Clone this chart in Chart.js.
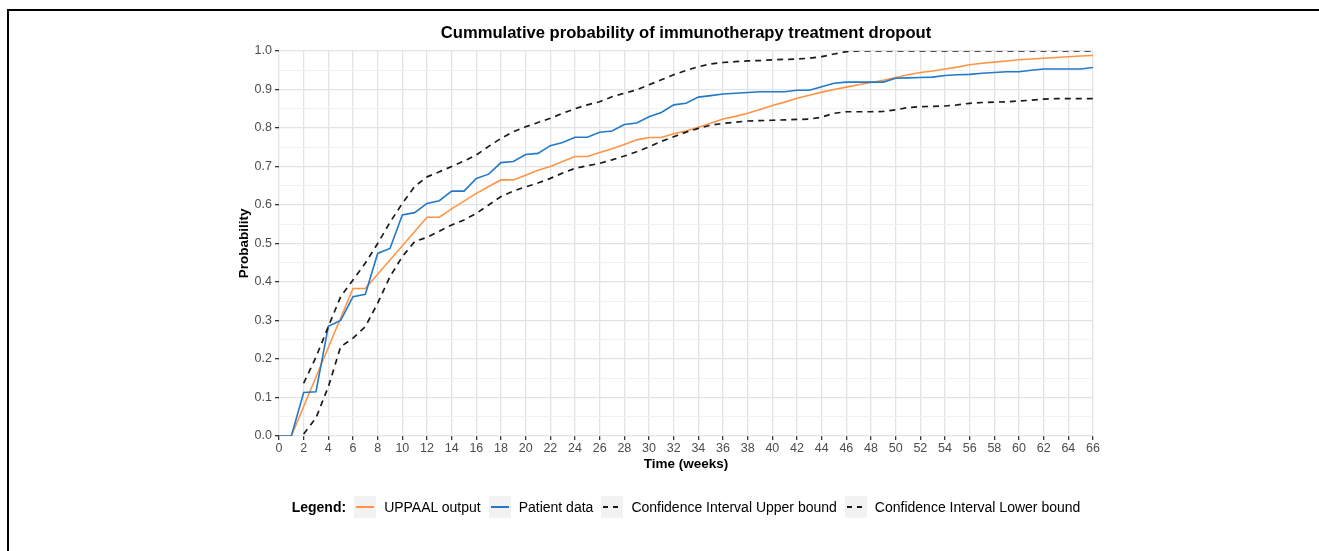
<!DOCTYPE html>
<html>
<head>
<meta charset="utf-8">
<script src="https://cdn.jsdelivr.net/npm/chart.js@4.4.1/dist/chart.umd.min.js"></script>
<style>
  html, body { margin: 0; padding: 0; background: #fff; overflow: hidden; }
  body { width: 1319px; height: 551px; position: relative; font-family: "Liberation Sans", Arial, sans-serif; }
  #frame { position: absolute; left: 7px; top: 9px; right: -10px; bottom: -10px;
           border-top: 2px solid #000; border-left: 2px solid #000; pointer-events: none; }
  #chart { position: absolute; left: 0; top: 0; }
  #legend { position: absolute; left: 279px; width: 814px; top: 496px; height: 22px;
            display: flex; justify-content: center; align-items: center; font-size: 14px; color: #000; }
  #legend b { margin-right: 8px; }
  .key { width: 22px; height: 22px; background: #f2f2f2; margin-right: 8px; position: relative; }
  .key i { position: absolute; left: 2px; right: 2px; top: 10px; height: 1.6px; }
  .lbl { margin-right: 8px; }
</style>
</head>
<body>
<canvas id="chart" width="1319" height="551"></canvas>
<div id="legend"></div>
<div id="frame"></div>
<script>
// weeks 0..66
const weeks = [];
for (let w = 0; w <= 66; w++) weeks.push(w);

// UPPAAL model output (null = straight segment in the picture)
const uppaal = [
  0, 0, null, null, null, null, 0.383, 0.383, null, null, null, null, 0.568, 0.568,
  0.590, 0.610, 0.630, 0.648, 0.665, 0.665, 0.677, 0.690, 0.700, 0.713, 0.726, 0.726,
  0.736, 0.746, 0.757, 0.769, 0.775, 0.775, 0.785, 0.792, 0.802, 0.812, 0.823, 0.830,
  0.838, 0.848, 0.858, 0.867, 0.877, 0.885, 0.893, 0.900, 0.906, 0.912, 0.918, 0.924,
  0.931, 0.938, 0.944, 0.948, 0.953, 0.958, 0.964, 0.968, 0.971, 0.974, 0.977, 0.979,
  0.981, 0.983, 0.985, 0.987, 0.988
];

// observed patient data
const patient = [
  0, 0, 0.113, 0.115, 0.285, 0.300, 0.362, 0.368, 0.474, 0.487, 0.574, 0.580, 0.604,
  0.611, 0.636, 0.636, 0.669, 0.680, 0.710, 0.713, 0.731, 0.734, 0.754, 0.762, 0.776,
  0.776, 0.789, 0.792, 0.809, 0.813, 0.829, 0.840, 0.860, 0.864, 0.880, 0.884, 0.888,
  0.890, 0.892, 0.894, 0.894, 0.894, 0.898, 0.898, 0.907, 0.916, 0.919, 0.919, 0.919,
  0.919, 0.929, 0.930, 0.931, 0.932, 0.936, 0.938, 0.939, 0.942, 0.944, 0.946, 0.946,
  0.950, 0.953, 0.953, 0.953, 0.953, 0.957
];

const ciUpper = [
  null, null, 0.137, 0.205, 0.284, 0.362, 0.405, 0.449, 0.500, 0.555, 0.604, 0.648,
  0.673, 0.686, 0.700, 0.714, 0.730, 0.752, 0.773, 0.790, 0.803, 0.814, 0.825, 0.838,
  0.850, 0.860, 0.868, 0.881, 0.890, 0.899, 0.912, 0.925, 0.938, 0.949, 0.959, 0.966,
  0.970, 0.972, 0.974, 0.975, 0.977, 0.978, 0.979, 0.981, 0.985, 0.992, 0.998, 1.0,
  1.0, 1.0, 1.0, 1.0, 1.0, 1.0, 1.0, 1.0, 1.0, 1.0, 1.0, 1.0, 1.0, 1.0, 1.0, 1.0,
  1.0, 1.0, 1.0
];

const ciLower = [
  null, null, 0.005, 0.047, 0.128, 0.232, 0.254, 0.284, 0.345, 0.414, 0.466, 0.505,
  0.516, 0.532, 0.548, 0.561, 0.578, 0.600, 0.622, 0.636, 0.647, 0.657, 0.669, 0.683,
  0.695, 0.702, 0.708, 0.717, 0.727, 0.738, 0.751, 0.765, 0.777, 0.789, 0.799, 0.807,
  0.812, 0.815, 0.818, 0.819, 0.820, 0.821, 0.822, 0.823, 0.828, 0.838, 0.842, 0.842,
  0.842, 0.843, 0.847, 0.853, 0.855, 0.856, 0.857, 0.860, 0.864, 0.866, 0.867, 0.868,
  0.870, 0.872, 0.875, 0.876, 0.876, 0.876, 0.876
];

const seriesNames = ["UPPAAL output", "Patient data", "Confidence Interval Upper bound", "Confidence Interval Lower bound"];

const colors = {
  orange: "#ff9447",
  blue: "#2279c9",
  dash: "#1a1a1a",
  grid: "#e3e3e3",
  gridMinor: "#f1f1f1",
  tick: "#333333",
  tickText: "#4d4d4d"
};

const toPoints = arr => weeks.map((w, i) => ({ x: w, y: arr[i] }));
const isMajor = v => Math.round(v * 100) % 10 === 0;

const ds = (label, data, color, dashed) => ({
  label: label,
  data: toPoints(data),
  borderColor: color,
  borderWidth: dashed ? 1.7 : 1.6,
  borderDash: dashed ? [6, 5] : [],
  pointRadius: 0,
  tension: 0,
  spanGaps: true,
  fill: false
});

Chart.defaults.font.family = '"Liberation Sans", Arial, sans-serif';

new Chart(document.getElementById("chart"), {
  type: "line",
  data: {
    datasets: [
      ds(seriesNames[2], ciUpper, colors.dash, true),
      ds(seriesNames[3], ciLower, colors.dash, true),
      ds(seriesNames[1], patient, colors.blue, false),
      ds(seriesNames[0], uppaal, colors.orange, false)
    ]
  },
  options: {
    responsive: false,
    animation: false,
    devicePixelRatio: 1,
    layout: { padding: { left: 232, right: 226, top: 0, bottom: 75 } },
    plugins: {
      legend: { display: false },
      tooltip: { enabled: false },
      title: {
        display: true,
        fullSize: false,
        text: "Cummulative probability of immunotherapy treatment dropout",
        color: "#000",
        font: { size: 16.6, weight: "bold" },
        padding: { top: 23, bottom: 8 }
      }
    },
    scales: {
      x: {
        type: "linear",
        min: 0,
        max: 66,
        border: { display: false },
        grid: { color: colors.grid, lineWidth: 1.3, tickLength: 4, tickColor: colors.tick },
        ticks: { stepSize: 2, color: colors.tickText, font: { size: 12.5 }, padding: 1, maxRotation: 0, autoSkip: false },
        title: { display: true, text: "Time (weeks)", color: "#000", font: { size: 13.5, weight: "bold" }, padding: { top: 0, bottom: 4 } },
        afterFit: s => { s.height = 40; }
      },
      y: {
        min: 0,
        max: 1,
        border: { display: false },
        grid: {
          color: c => isMajor(c.tick.value) ? colors.grid : colors.gridMinor,
          lineWidth: c => isMajor(c.tick.value) ? 1.3 : 1,
          tickLength: 4,
          tickColor: c => isMajor(c.tick.value) ? colors.tick : "rgba(0,0,0,0)"
        },
        ticks: {
          stepSize: 0.05,
          color: colors.tickText,
          font: { size: 12.5 },
          padding: 3,
          autoSkip: false,
          callback: v => isMajor(v) ? v.toFixed(1) : ""
        },
        title: { display: true, text: "Probability", color: "#000", font: { size: 13.5, weight: "bold" }, padding: { top: 4, bottom: 0 } },
        afterFit: s => { s.width = 47; }
      }
    }
  }
});

// legend, ggplot style
const keys = [
  { name: seriesNames[0], color: colors.orange, dashed: false },
  { name: seriesNames[1], color: colors.blue, dashed: false },
  { name: seriesNames[2], color: colors.dash, dashed: true },
  { name: seriesNames[3], color: colors.dash, dashed: true }
];
const leg = document.getElementById("legend");
leg.innerHTML = "<b>Legend:</b>" + keys.map((k, i) => {
  const bg = k.dashed
    ? "repeating-linear-gradient(90deg," + k.color + " 0 5px, transparent 5px 10px)"
    : k.color;
  return '<span class="key"><i style="background:' + bg + '"></i></span>' +
    '<span class="lbl"' + (i === keys.length - 1 ? ' style="margin-right:0"' : "") + '>' + k.name + "</span>";
}).join("");
</script>
</body>
</html>
